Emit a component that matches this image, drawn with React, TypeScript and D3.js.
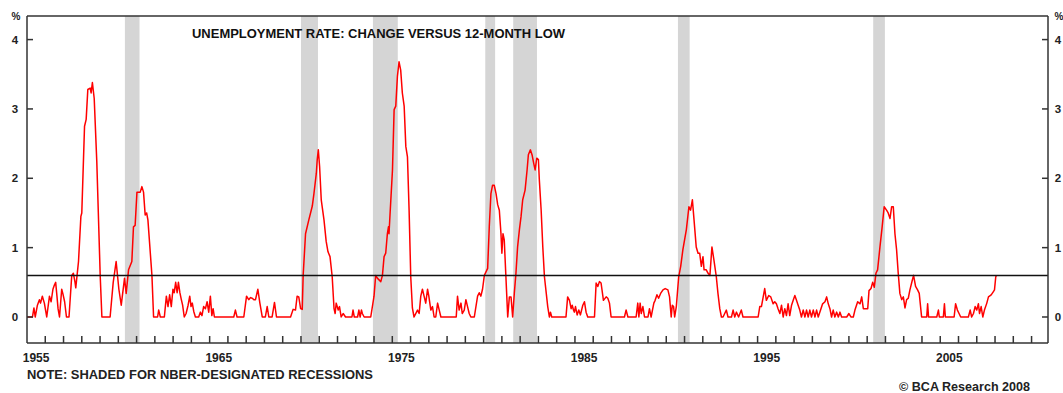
import React from 'react';
import * as d3 from 'd3';

const yTicks = [0, 1, 2, 3, 4];
const yearTicks = d3.range(1956, 2011);
const yearLabels = [1955, 1965, 1975, 1985, 1995, 2005];
const recessionStart = [1960.36, 1970.0, 1973.94, 1980.09, 1981.62, 1990.64, 2001.33];
const recessionEnd = [1961.16, 1970.93, 1975.3, 1980.63, 1982.92, 1991.28, 2001.97];
const threshold = 0.6;

// [decimal year, change vs 12-month low, %]
const unemploymentChange: [number, number][] = [
  [1955.0, 0], [1955.3, 0], [1955.38, 0.13], [1955.45, 0], [1955.57, 0.17], [1955.68, 0.25],
  [1955.74, 0.2], [1955.84, 0.3], [1955.95, 0.2], [1956.08, 0], [1956.23, 0.3], [1956.32, 0.22],
  [1956.42, 0.4], [1956.5, 0.46], [1956.57, 0.5], [1956.64, 0.3], [1956.7, 0.12], [1956.78, 0],
  [1956.9, 0.4], [1956.97, 0.33], [1957.06, 0.22], [1957.16, 0], [1957.3, 0], [1957.45, 0.6],
  [1957.54, 0.63], [1957.63, 0.5], [1957.67, 0.42], [1957.82, 0.8], [1957.95, 1.45], [1958.0, 1.5],
  [1958.15, 2.75], [1958.24, 2.85], [1958.33, 3.28], [1958.46, 3.3], [1958.51, 3.23], [1958.58, 3.38],
  [1958.68, 3.15], [1958.82, 2.25], [1959.01, 0.58], [1959.1, 0], [1959.55, 0], [1959.72, 0.5],
  [1959.88, 0.8], [1960.03, 0.4], [1960.16, 0.17], [1960.34, 0.56], [1960.43, 0.34], [1960.56, 0.68],
  [1960.74, 0.8], [1960.83, 1.3], [1960.92, 1.32], [1961.02, 1.8], [1961.2, 1.8], [1961.29, 1.88],
  [1961.38, 1.8], [1961.47, 1.47], [1961.55, 1.5], [1961.62, 1.4], [1961.84, 0.6], [1961.93, 0],
  [1962.15, 0], [1962.21, 0.1], [1962.3, 0], [1962.52, 0], [1962.63, 0.3], [1962.72, 0.15],
  [1962.81, 0.32], [1962.9, 0.15], [1962.99, 0.4], [1963.06, 0.35], [1963.14, 0.5], [1963.22, 0.35],
  [1963.29, 0.5], [1963.37, 0.35], [1963.45, 0.25], [1963.52, 0.17], [1963.61, 0], [1963.71, 0.05],
  [1963.82, 0.17], [1963.91, 0.3], [1963.98, 0.15], [1964.05, 0.2], [1964.13, 0.08], [1964.22, 0],
  [1964.4, 0], [1964.49, 0.07], [1964.58, 0.02], [1964.67, 0.15], [1964.77, 0.12], [1964.86, 0.22],
  [1964.95, 0.07], [1965.04, 0.3], [1965.12, 0.02], [1965.19, 0.12], [1965.26, 0], [1966.32, 0],
  [1966.41, 0.1], [1966.5, 0], [1966.87, 0], [1967.02, 0.3], [1967.14, 0.25], [1967.24, 0.28],
  [1967.33, 0.27], [1967.42, 0.25], [1967.51, 0.25], [1967.64, 0.4], [1967.75, 0.2], [1967.88, 0],
  [1968.05, 0], [1968.15, 0.15], [1968.24, 0], [1968.42, 0], [1968.55, 0.21], [1968.66, 0],
  [1969.43, 0], [1969.57, 0.11], [1969.7, 0.1], [1969.79, 0.3], [1969.88, 0.29], [1969.98, 0.12],
  [1970.07, 0.11], [1970.12, 0.6], [1970.25, 1.2], [1970.43, 1.4], [1970.62, 1.6], [1970.71, 1.78],
  [1970.84, 2.07], [1970.89, 2.27], [1970.95, 2.41], [1971.02, 2.17], [1971.11, 1.69], [1971.26, 1.4],
  [1971.38, 1.09], [1971.48, 0.94], [1971.59, 0.87], [1971.71, 0.58], [1971.81, 0.12], [1971.87, 0.05],
  [1971.93, 0.2], [1972.04, 0.1], [1972.11, 0.15], [1972.2, 0], [1972.31, 0.05], [1972.44, 0],
  [1972.79, 0], [1972.85, 0.1], [1972.92, 0], [1973.1, 0], [1973.17, 0.1], [1973.24, 0],
  [1973.31, 0.1], [1973.36, 0.05], [1973.46, 0], [1973.82, 0], [1974.0, 0.3], [1974.09, 0.6],
  [1974.18, 0.56], [1974.37, 0.51], [1974.46, 0.6], [1974.55, 0.87], [1974.64, 0.92], [1974.73, 1.2],
  [1974.79, 1.3], [1974.82, 1.2], [1974.88, 1.5], [1975.01, 2.12], [1975.1, 2.99], [1975.19, 3.04],
  [1975.28, 3.47], [1975.37, 3.68], [1975.46, 3.56], [1975.55, 3.23], [1975.65, 3.04], [1975.74, 2.46],
  [1975.83, 2.31], [1975.92, 1.54], [1976.01, 0.58], [1976.1, 0.13], [1976.19, 0], [1976.38, 0.1],
  [1976.47, 0.05], [1976.56, 0.3], [1976.65, 0.4], [1976.74, 0.3], [1976.83, 0.2], [1976.93, 0.4],
  [1977.0, 0.3], [1977.11, 0.1], [1977.2, 0.15], [1977.29, 0], [1977.38, 0], [1977.48, 0.2],
  [1977.57, 0.1], [1977.66, 0], [1978.5, 0], [1978.57, 0.3], [1978.66, 0.1], [1978.76, 0.2],
  [1978.83, 0.05], [1978.94, 0.1], [1979.03, 0.25], [1979.12, 0.15], [1979.21, 0.05], [1979.3, 0],
  [1979.49, 0], [1979.67, 0.3], [1979.76, 0.35], [1979.85, 0.3], [1979.94, 0.4], [1980.04, 0.6],
  [1980.13, 0.65], [1980.22, 0.7], [1980.31, 1.3], [1980.4, 1.78], [1980.49, 1.9], [1980.58, 1.9],
  [1980.68, 1.78], [1980.77, 1.62], [1980.86, 1.54], [1980.95, 1.2], [1981.0, 0.92], [1981.06, 1.2],
  [1981.13, 1.11], [1981.22, 0.58], [1981.32, 0], [1981.41, 0.29], [1981.5, 0.29], [1981.59, 0],
  [1981.68, 0.34], [1981.77, 0.63], [1981.86, 1.01], [1981.96, 1.26], [1982.05, 1.45], [1982.14, 1.69],
  [1982.27, 1.83], [1982.38, 2.12], [1982.45, 2.34], [1982.56, 2.41], [1982.65, 2.34], [1982.74, 2.22],
  [1982.82, 2.12], [1982.91, 2.29], [1983.0, 2.27], [1983.05, 1.98], [1983.15, 1.54], [1983.24, 1.01],
  [1983.33, 0.58], [1983.51, 0.15], [1983.6, 0], [1983.66, 0.07], [1983.73, 0], [1984.51, 0],
  [1984.6, 0.29], [1984.7, 0.24], [1984.79, 0.12], [1984.85, 0.17], [1984.92, 0.1], [1984.97, 0.07],
  [1985.03, 0.15], [1985.12, 0.03], [1985.21, 0.1], [1985.3, 0.03], [1985.43, 0.17], [1985.52, 0.22],
  [1985.61, 0.07], [1985.7, 0], [1986.07, 0], [1986.16, 0.49], [1986.25, 0.44], [1986.34, 0.51],
  [1986.43, 0.49], [1986.56, 0.24], [1986.71, 0.29], [1986.8, 0.27], [1986.89, 0.2], [1986.98, 0],
  [1987.71, 0], [1987.8, 0.1], [1987.9, 0], [1988.35, 0], [1988.44, 0.2], [1988.5, 0],
  [1988.57, 0.2], [1988.63, 0.05], [1988.72, 0.15], [1988.81, 0], [1989.0, 0], [1989.08, 0.12],
  [1989.17, 0], [1989.32, 0.2], [1989.39, 0.24], [1989.49, 0.32], [1989.58, 0.27], [1989.69, 0.34],
  [1989.82, 0.39], [1989.94, 0.41], [1990.09, 0.39], [1990.18, 0.29], [1990.27, 0], [1990.33, 0.17],
  [1990.4, 0.15], [1990.46, 0], [1990.55, 0.15], [1990.68, 0.58], [1990.79, 0.73], [1990.91, 0.97],
  [1991.1, 1.26], [1991.24, 1.59], [1991.33, 1.54], [1991.43, 1.69], [1991.52, 1.4], [1991.64, 1.01],
  [1991.74, 0.92], [1991.83, 0.92], [1991.92, 0.73], [1992.01, 0.87], [1992.07, 0.68], [1992.19, 0.68],
  [1992.29, 0.63], [1992.39, 0.6], [1992.5, 1.01], [1992.61, 0.82], [1992.74, 0.58], [1992.83, 0.34],
  [1992.93, 0.12], [1993.02, 0], [1993.11, 0], [1993.2, 0.05], [1993.29, 0.1], [1993.38, 0],
  [1993.57, 0], [1993.66, 0.1], [1993.75, 0], [1993.84, 0.07], [1993.96, 0], [1994.11, 0.1],
  [1994.2, 0], [1995.03, 0], [1995.12, 0.15], [1995.21, 0.15], [1995.39, 0.41], [1995.48, 0.24],
  [1995.61, 0.31], [1995.72, 0.29], [1995.85, 0.19], [1995.94, 0.22], [1996.03, 0.19], [1996.12, 0.12],
  [1996.22, 0.05], [1996.31, 0.17], [1996.4, 0], [1996.49, 0.12], [1996.58, 0.02], [1996.67, 0.19],
  [1996.76, 0.02], [1996.86, 0.17], [1996.95, 0.24], [1997.04, 0.31], [1997.13, 0.24], [1997.22, 0.17],
  [1997.31, 0.1], [1997.4, 0], [1997.5, 0.1], [1997.59, 0], [1997.68, 0.1], [1997.77, 0],
  [1997.86, 0.1], [1997.95, 0], [1998.05, 0.1], [1998.14, 0], [1998.23, 0.1], [1998.32, 0],
  [1998.47, 0.12], [1998.56, 0.19], [1998.69, 0.22], [1998.78, 0.29], [1998.87, 0.19], [1998.96, 0.12],
  [1999.05, 0], [1999.14, 0.1], [1999.23, 0], [1999.33, 0.07], [1999.42, 0], [1999.51, 0.07],
  [1999.6, 0], [1999.88, 0], [2000.0, 0.05], [2000.11, 0], [2000.24, 0], [2000.33, 0.1],
  [2000.48, 0.22], [2000.61, 0.19], [2000.7, 0.29], [2000.79, 0.12], [2000.88, 0.12], [2001.03, 0.12],
  [2001.1, 0.38], [2001.21, 0.41], [2001.3, 0.5], [2001.39, 0.43], [2001.48, 0.63], [2001.57, 0.68],
  [2001.7, 1.01], [2001.82, 1.3], [2001.93, 1.59], [2002.06, 1.54], [2002.15, 1.5], [2002.25, 1.42],
  [2002.34, 1.59], [2002.43, 1.59], [2002.52, 1.2], [2002.61, 0.97], [2002.7, 0.63], [2002.79, 0.34],
  [2002.89, 0.25], [2002.98, 0.29], [2003.07, 0.13], [2003.16, 0.25], [2003.25, 0.27], [2003.34, 0.39],
  [2003.47, 0.53], [2003.54, 0.6], [2003.65, 0.44], [2003.76, 0.39], [2003.85, 0.34], [2003.98, 0],
  [2004.26, 0], [2004.31, 0.19], [2004.36, 0], [2004.81, 0], [2004.9, 0.1], [2004.95, 0],
  [2005.17, 0], [2005.23, 0.19], [2005.28, 0], [2005.76, 0], [2005.84, 0.19], [2005.94, 0.1],
  [2006.03, 0.05], [2006.12, 0], [2006.54, 0], [2006.64, 0.1], [2006.72, 0], [2006.82, 0.05],
  [2006.91, 0.15], [2007.0, 0.1], [2007.09, 0.19], [2007.15, 0.05], [2007.24, 0.15], [2007.33, 0],
  [2007.42, 0.1], [2007.55, 0.2], [2007.64, 0.29], [2007.79, 0.32], [2007.92, 0.37], [2007.97, 0.39],
  [2008.04, 0.58], [2008.08, 0.6],
];

const FONT = '"Liberation Sans", Arial, Helvetica, sans-serif';

export default function App() {
  const left = 27, right = 1048, top = 16, bottom = 343;
  const x = d3.scaleLinear().domain([1955, 2010.9]).range([left, right]);
  const y = d3.scaleLinear().domain([-0.375, 4.34]).range([bottom, top]);
  const line = d3.line<[number, number]>().x(d => x(d[0])).y(d => y(d[1]));
  const axisColor = '#333';

  return (
    <svg width={1063} height={393} style={{ position: 'absolute', left: 0, top: 0, background: '#fff' }}
      fontFamily={FONT} fontWeight="bold">
      <rect x={0} y={0} width={1063} height={393} fill="#fff" />
      {recessionStart.map((s, i) => (
        <rect key={i} x={x(s)} y={top} width={x(recessionEnd[i]) - x(s)} height={bottom - top} fill="#d5d5d5" />
      ))}
      <path d={line(unemploymentChange) || ''} fill="none" stroke="#ff0000" strokeWidth={1.5} strokeLinejoin="round" />
      <line x1={left} x2={right} y1={y(threshold)} y2={y(threshold)} stroke="#111" strokeWidth={1.5} />
      {/* frame */}
      <line x1={left} x2={right} y1={top} y2={top} stroke={axisColor} strokeWidth={1.5} />
      <line x1={left} x2={left} y1={top} y2={bottom} stroke={axisColor} strokeWidth={1.5} />
      <line x1={right} x2={right} y1={top} y2={bottom} stroke={axisColor} strokeWidth={1.5} />
      <line x1={left} x2={right} y1={bottom} y2={bottom} stroke={axisColor} strokeWidth={1.5} />
      {yTicks.map(t => (
        <g key={t}>
          <line x1={left} x2={left + 6} y1={y(t)} y2={y(t)} stroke={axisColor} strokeWidth={1.5} />
          <line x1={right - 6} x2={right} y1={y(t)} y2={y(t)} stroke={axisColor} strokeWidth={1.5} />
          <text x={15} y={y(t) + 4} fontSize={11.5} textAnchor="middle" fill="#222">{t}</text>
          <text x={1058} y={y(t) + 4} fontSize={11.5} textAnchor="middle" fill="#222">{t}</text>
        </g>
      ))}
      <text x={16} y={20} fontSize={10} textAnchor="middle" fill="#222">%</text>
      <text x={1059} y={20} fontSize={10} textAnchor="middle" fill="#222">%</text>
      {yearTicks.map(t => (
        <line key={t} x1={x(t)} x2={x(t)} y1={bottom} y2={bottom - 7} stroke={axisColor} strokeWidth={1.5} />
      ))}
      {yearLabels.map(t => (
        <text key={t} x={x(t + 0.5)} y={362} fontSize={12} textAnchor="middle" fill="#222">{t}</text>
      ))}
      <text x={192} y={38} fontSize={12} textLength={373} lengthAdjust="spacingAndGlyphs" fill="#111">UNEMPLOYMENT RATE: CHANGE VERSUS 12-MONTH LOW</text>
      <text x={27} y={379} fontSize={12} textLength={346} lengthAdjust="spacingAndGlyphs" fill="#222">NOTE: SHADED FOR NBER-DESIGNATED RECESSIONS</text>
      <text x={899} y={391} fontSize={12.5} textLength={131} lengthAdjust="spacingAndGlyphs" fill="#222">© BCA Research 2008</text>
    </svg>
  );
}
